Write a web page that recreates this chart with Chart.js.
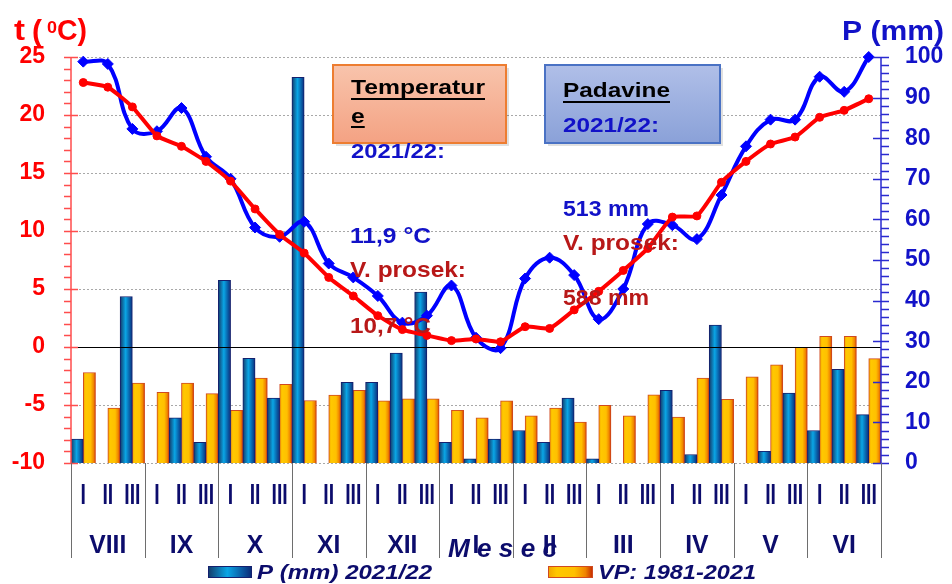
<!DOCTYPE html>
<html>
<head>
<meta charset="utf-8">
<script src="https://cdn.jsdelivr.net/npm/chart.js@4.4.1/dist/chart.umd.min.js"></script>
<style>
html, body { margin: 0; padding: 0; background: #fff; }
#wrap { width: 952px; height: 584px; position: relative; }
</style>
</head>
<body>
<div id="wrap"><canvas id="chart"></canvas></div>
<script>
// Temperatura i padavine po dekadama - 2021/22 vs. prosek 1981-2021

const months = ['VIII', 'IX', 'X', 'XI', 'XII', 'I', 'II', 'III', 'IV', 'V', 'VI'];
const dekads = ['I', 'II', 'III'];

// padavine (mm) po dekadi
const precip2122 = [5.9, 0, 41.0, 0, 11.1, 5.1, 45.0, 25.8, 16.0, 95.0, 0, 19.9,
                    19.9, 27.1, 42.1, 5.1, 1.0, 5.9, 8.0, 5.1, 16.0, 1.0, 0, 0,
                    17.9, 2.1, 34.0, 0, 2.9, 17.2, 8.0, 23.1, 11.9];
const precipAvg = [22.3, 13.5, 19.7, 17.4, 19.7, 17.1, 13.0, 20.9, 19.4, 15.4, 16.7, 17.9,
                   15.3, 15.8, 15.8, 13.0, 11.1, 15.3, 11.6, 13.5, 10.1, 14.2, 11.6, 16.8,
                   11.3, 20.9, 15.7, 21.2, 24.2, 28.5, 31.2, 31.2, 25.7];

// temperatura (°C) po dekadi
const temp2122 = [24.6, 24.4, 18.8, 18.6, 20.6, 16.4, 14.5, 10.3, 9.5, 10.8, 7.2, 6.0,
                  4.4, 2.1, 2.7, 5.3, 0.8, -0.1, 5.9, 7.7, 6.2, 2.4, 5.0, 10.6,
                  10.5, 9.3, 13.1, 17.3, 19.6, 19.6, 23.3, 22.0, 25.0];
const tempAvg = [22.8, 22.4, 20.7, 18.2, 17.3, 16.0, 14.3, 11.9, 9.7, 8.1, 6.0, 4.4,
                 2.7, 1.5, 1.0, 0.55, 0.7, 0.45, 1.75, 1.6, 3.2, 4.8, 6.6, 8.5,
                 11.2, 11.3, 14.2, 16.0, 17.5, 18.1, 19.8, 20.4, 21.4];

const tempTicks = [-10, -5, 0, 5, 10, 15, 20, 25];
const precipTicks = [0, 10, 20, 30, 40, 50, 60, 70, 80, 90, 100];

const categories = months.flatMap(m => dekads.map(d => m + '-' + d));

const FONT = "'Liberation Sans', Arial, sans-serif";
const NAVY = '#0c0c6c';
const TBLUE = '#1212c8';
const DRED = '#b81818';

const blueStops = [[0, '#143a68'], [0.45, '#0aa6e6'], [1, '#0a2c7a']];
const orangeStops = [[0, '#f2a400'], [0.2, '#ffc800'], [0.6, '#ffc000'], [0.85, '#f08400'], [1, '#c83200']];

function barFill(stops) {
    return function(c) {
        const chart = c.chart;
        const xs = chart.scales.x;
        if (c.type !== 'data' || !xs || !chart.chartArea) return stops[1][1];
        const cw = xs.width / categories.length;
        const mid = xs.getPixelForValue(c.dataIndex) + (c.datasetIndex === 0 ? -cw / 4 : cw / 4);
        const g = chart.ctx.createLinearGradient(mid - cw / 4, 0, mid + cw / 4, 0);
        stops.forEach(s => g.addColorStop(s[0], s[1]));
        return g;
    };
}

function fitText(ctx, txt, x, y, w, font, color, align) {
    ctx.save();
    ctx.font = font;
    ctx.fillStyle = color;
    ctx.textAlign = 'left';
    ctx.textBaseline = 'alphabetic';
    const m = ctx.measureText(txt).width;
    const sx = w ? w / m : 1;
    const x0 = align === 'center' ? x - m * sx / 2 : x;
    ctx.translate(x0, y);
    ctx.scale(sx, 1);
    ctx.fillText(txt, 0, 0);
    ctx.restore();
    return m * sx;
}

function box(ctx, x, y, w, h, top, bottom, border) {
    ctx.fillStyle = 'rgba(0,0,0,0.12)';
    ctx.fillRect(x + 3, y + 3, w, h);
    const g = ctx.createLinearGradient(0, y, 0, y + h);
    g.addColorStop(0, top);
    g.addColorStop(1, bottom);
    ctx.fillStyle = g;
    ctx.fillRect(x, y, w, h);
    ctx.strokeStyle = border;
    ctx.lineWidth = 2;
    ctx.strokeRect(x, y, w, h);
}

const decor = {
    id: 'decor',
    beforeDatasetsDraw(chart) {
        const { ctx, chartArea: a, scales: { y } } = chart;
        ctx.save();
        ctx.strokeStyle = '#a8a8a8';
        ctx.lineWidth = 1;
        ctx.setLineDash([2, 2]);
        tempTicks.forEach(v => {
            if (v === 0) return;
            const py = Math.round(y.getPixelForValue(v)) + 0.5;
            ctx.beginPath();
            ctx.moveTo(a.left, py);
            ctx.lineTo(a.right, py);
            ctx.stroke();
        });
        ctx.restore();
    },
    afterDatasetDraw(chart, args) {
        if (args.index !== 0) return;
        const { ctx, chartArea: a, scales: { y } } = chart;
        const py = Math.round(y.getPixelForValue(0)) + 0.5;
        ctx.save();
        ctx.strokeStyle = '#000';
        ctx.lineWidth = 1;
        ctx.beginPath();
        ctx.moveTo(a.left, py);
        ctx.lineTo(a.right, py);
        ctx.stroke();
        ctx.restore();
    },
    afterDraw(chart) {
        const { ctx, chartArea: a, scales: { x, y, y1 } } = chart;
        const cw = (a.right - a.left) / categories.length;
        ctx.save();

        // leva osa (temperatura)
        ctx.strokeStyle = '#ff4d4d';
        ctx.lineWidth = 1.5;
        ctx.beginPath();
        ctx.moveTo(a.left, a.top);
        ctx.lineTo(a.left, a.bottom);
        for (let v = tempTicks[0]; v <= tempTicks[tempTicks.length - 1]; v++) {
            const py = Math.round(y.getPixelForValue(v)) + 0.5;
            const major = v % 5 === 0;
            ctx.moveTo(a.left - 7, py);
            ctx.lineTo(major ? a.left + 7 : a.left, py);
        }
        ctx.stroke();

        // desna osa (padavine)
        ctx.strokeStyle = '#2a2ad0';
        ctx.beginPath();
        ctx.moveTo(a.right, a.top);
        ctx.lineTo(a.right, a.bottom);
        for (let v = 0; v <= 100; v += 2) {
            const py = Math.round(y1.getPixelForValue(v)) + 0.5;
            const major = v % 10 === 0;
            ctx.moveTo(major ? a.right - 8 : a.right, py);
            ctx.lineTo(a.right + 8, py);
        }
        ctx.stroke();

        // razdelnici meseci
        ctx.strokeStyle = '#6e6e6e';
        ctx.lineWidth = 1;
        ctx.beginPath();
        for (let m = 0; m <= months.length; m++) {
            const px = Math.round(a.left + m * 3 * cw) + 0.5;
            ctx.moveTo(px, a.bottom);
            ctx.lineTo(px, 558);
        }
        ctx.stroke();

        // dekade
        categories.forEach((c, i) => {
            const d = dekads[i % 3];
            const cx = x.getPixelForValue(i);
            ctx.save();
            ctx.font = 'bold 29px ' + FONT;
            const w = ctx.measureText(d).width * 0.67;
            ctx.restore();
            fitText(ctx, d, cx, 504, w, 'bold 29px ' + FONT, NAVY, 'center');
        });

        // meseci
        months.forEach((m, i) => {
            const cx = a.left + (i * 3 + 1.5) * cw;
            ctx.save();
            ctx.font = 'bold 26px ' + FONT;
            const w = ctx.measureText(m).width * 0.95;
            ctx.restore();
            fitText(ctx, m, cx, 553, w, 'bold 26px ' + FONT, NAVY, 'center');
        });

        fitText(ctx, 'M e s e c', 448, 557, 109, 'italic bold 26px ' + FONT, NAVY);

        // legenda
        let g = ctx.createLinearGradient(208, 0, 251, 0);
        blueStops.forEach(s => g.addColorStop(s[0], s[1]));
        ctx.fillStyle = g;
        ctx.fillRect(208, 566, 43, 11);
        ctx.strokeStyle = '#14206e';
        ctx.strokeRect(208.5, 566.5, 43, 11);
        fitText(ctx, 'P (mm) 2021/22', 257, 579, 175, 'italic bold 21px ' + FONT, NAVY);

        g = ctx.createLinearGradient(548, 0, 592, 0);
        orangeStops.forEach(s => g.addColorStop(s[0], s[1]));
        ctx.fillStyle = g;
        ctx.fillRect(548, 566, 44, 11);
        ctx.strokeStyle = '#d04a20';
        ctx.strokeRect(548.5, 566.5, 44, 11);
        fitText(ctx, 'VP: 1981-2021', 598, 579, 158, 'italic bold 21px ' + FONT, NAVY);

        // naslovi osa
        fitText(ctx, 't', 14, 40, 11, 'bold 29px ' + FONT, '#ff0000');
        fitText(ctx, '(', 32, 41, 10, 'bold 29px ' + FONT, '#ff0000');
        fitText(ctx, '0', 47, 33, 10, 'bold 16px ' + FONT, '#ff0000');
        fitText(ctx, 'C)', 57, 40, 30, 'bold 29px ' + FONT, '#ff0000');
        fitText(ctx, 'P (mm)', 842, 40, 102, 'bold 27px ' + FONT, TBLUE);

        // okvir - temperature
        box(ctx, 333, 65, 173, 78, '#f8c4ac', '#f4a283', '#ed7d31');
        const tw = fitText(ctx, 'Temperatur', 351, 94, 134, 'bold 20px ' + FONT, '#000');
        ctx.fillStyle = '#000';
        ctx.fillRect(351, 98, tw, 2);
        ctx.font = 'bold 20px ' + FONT;
        const ew = ctx.measureText('e').width * (134 / ctx.measureText('Temperatur').width);
        fitText(ctx, 'e', 351, 123, ew, 'bold 20px ' + FONT, '#000');
        ctx.fillStyle = '#000';
        ctx.fillRect(351, 126, ew, 2);
        fitText(ctx, '2021/22:', 351, 158, 94, 'bold 21px ' + FONT, TBLUE);
        fitText(ctx, '11,9 °C', 350, 243, 81, 'bold 22px ' + FONT, TBLUE);
        fitText(ctx, 'V. prosek:', 350, 277, 116, 'bold 22px ' + FONT, DRED);
        fitText(ctx, '10,7 °C', 350, 333, 81, 'bold 22px ' + FONT, DRED);

        // okvir - padavine
        box(ctx, 545, 65, 175, 78, '#b0bfe8', '#8aa1d8', '#4a72c4');
        const pw = fitText(ctx, 'Padavine', 563, 97, 107, 'bold 21px ' + FONT, '#000');
        ctx.fillStyle = '#000';
        ctx.fillRect(563, 101, pw, 2);
        fitText(ctx, '2021/22:', 563, 132, 96, 'bold 21px ' + FONT, TBLUE);
        fitText(ctx, '513 mm', 563, 216, 86, 'bold 22px ' + FONT, TBLUE);
        fitText(ctx, 'V. prosek:', 563, 250, 116, 'bold 22px ' + FONT, DRED);
        fitText(ctx, '588 mm', 563, 305, 86, 'bold 22px ' + FONT, DRED);

        ctx.restore();
    }
};

const ctx = document.getElementById('chart');
new Chart(ctx, {
    data: {
        labels: categories,
        datasets: [{
            type: 'bar',
            label: 'P (mm) 2021/22',
            data: precip2122,
            yAxisID: 'y1',
            backgroundColor: barFill(blueStops),
            borderColor: '#14206e',
            borderWidth: 1,
            categoryPercentage: 1,
            barPercentage: 1,
            order: 1
        }, {
            type: 'bar',
            label: 'VP: 1981-2021',
            data: precipAvg,
            yAxisID: 'y1',
            backgroundColor: barFill(orangeStops),
            borderColor: '#d04a20',
            borderWidth: 1,
            categoryPercentage: 1,
            barPercentage: 1,
            order: 1
        }, {
            type: 'line',
            label: 'T prosek',
            data: tempAvg,
            yAxisID: 'y',
            borderColor: '#ff0000',
            backgroundColor: '#ff0000',
            borderWidth: 4,
            pointStyle: 'circle',
            pointRadius: 4,
            pointBorderWidth: 1,
            tension: 0.15,
            clip: false,
            order: 0
        }, {
            type: 'line',
            label: 'T 2021/22',
            data: temp2122,
            yAxisID: 'y',
            borderColor: '#0000ff',
            backgroundColor: '#0000ff',
            borderWidth: 4,
            pointStyle: 'rectRot',
            pointRadius: 5.5,
            pointBorderWidth: 1,
            tension: 0.4,
            clip: false,
            order: 0
        }]
    },
    options: {
        responsive: true,
        maintainAspectRatio: false,
        animation: false,
        layout: { padding: { top: 57, left: 0, right: 0, bottom: 0 } },
        plugins: {
            legend: { display: false },
            tooltip: { enabled: false }
        },
        scales: {
            x: {
                type: 'category',
                offset: true,
                grid: { display: false },
                border: { display: false },
                ticks: { display: false },
                afterFit: s => { s.height = 121; }
            },
            y: {
                position: 'left',
                min: tempTicks[0],
                max: tempTicks[tempTicks.length - 1],
                grid: { display: false, drawTicks: false },
                border: { display: false },
                ticks: {
                    stepSize: tempTicks[1] - tempTicks[0],
                    color: '#ff0000',
                    padding: 26,
                    font: { family: FONT, size: 23, weight: 'bold' }
                },
                afterFit: s => { s.width = 71; }
            },
            y1: {
                position: 'right',
                min: precipTicks[0],
                max: precipTicks[precipTicks.length - 1],
                grid: { display: false, drawTicks: false },
                border: { display: false },
                ticks: {
                    stepSize: precipTicks[1] - precipTicks[0],
                    color: TBLUE,
                    padding: 24,
                    font: { family: FONT, size: 23, weight: 'bold' }
                },
                afterFit: s => { s.width = 71; }
            }
        }
    },
    plugins: [decor]
});
</script>
</body>
</html>
